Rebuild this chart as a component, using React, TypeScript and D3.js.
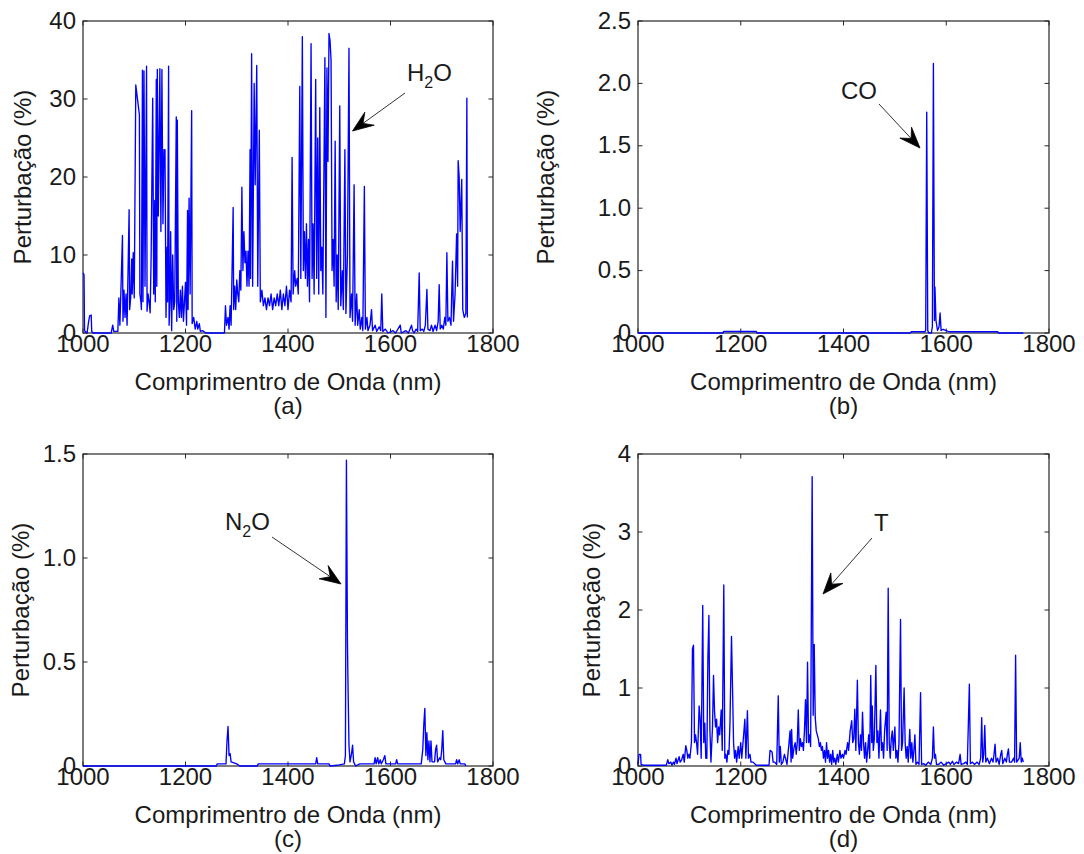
import React from "react";
import * as d3 from "d3";

type Pt = [number, number];

const xTicks = [1000, 1200, 1400, 1600, 1800];

const yTicksA = [0, 10, 20, 30, 40];
const yLabelsA = ["0", "10", "20", "30", "40"];
const yTicksB = [0, 0.5, 1, 1.5, 2, 2.5];
const yLabelsB = ["0", "0.5", "1.0", "1.5", "2.0", "2.5"];
const yTicksC = [0, 0.5, 1, 1.5];
const yLabelsC = ["0", "0.5", "1.0", "1.5"];
const yTicksD = [0, 1, 2, 3, 4];
const yLabelsD = ["0", "1", "2", "3", "4"];

// (a) H2O perturbation
const h2oData: Pt[] = [
  [1000, 7.7], [1002, 7.5], [1003, 0.3], [1008, 0], [1011, 1.5], [1013, 2.2], [1016, 2.3], [1017, 0.2], [1020, 0],
  [1055, 0], [1058, 1], [1060, 0.2], [1068, 0.2], [1070, 4.5], [1072, 1], [1074, 5.5], [1077, 12.5], [1078, 1.5],
  [1080, 5.5], [1082, 2], [1084, 5], [1086, 1], [1090, 15.8], [1091, 3], [1093, 4.5], [1095, 9.5], [1096, 5],
  [1098, 10.3], [1100, 4.5], [1103, 31.8], [1110, 28], [1111, 5], [1113, 4], [1114, 3], [1116, 33.7], [1117, 4],
  [1119, 33.6], [1121, 6], [1124, 34.2], [1125, 2.8], [1127, 5], [1129, 4], [1131, 2.6], [1133, 10], [1136, 30.1],
  [1138, 5], [1140, 17], [1141, 4], [1143, 32.5], [1144, 6], [1145, 33.8], [1147, 15], [1150, 33.9], [1152, 13],
  [1154, 33.8], [1156, 14], [1158, 23.5], [1160, 23.5], [1162, 2], [1164, 11], [1165, 4], [1167, 34.2], [1168, 1],
  [1170, 5], [1171, 13], [1173, 0.3], [1175, 10], [1177, 3], [1179, 4], [1182, 27.7], [1183, 1.5], [1184, 27.3],
  [1186, 4], [1188, 2], [1190, 5.5], [1192, 2], [1194, 6], [1196, 1.5], [1198, 4], [1200, 6.5], [1202, 1],
  [1204, 15.7], [1205, 3], [1207, 17.3], [1209, 5], [1212, 28.5], [1213, 1.2], [1216, 2], [1219, 0.5], [1222, 1.5],
  [1224, 0.5], [1227, 1.2], [1229, 0.2], [1233, 0.3], [1240, 0], [1276, 0], [1278, 3.5], [1280, 1], [1283, 2],
  [1285, 0.5], [1287, 3.5], [1289, 1], [1293, 16.1], [1294, 3], [1296, 6], [1298, 3], [1300, 6.8], [1302, 5],
  [1304, 4], [1306, 8], [1308, 5.5], [1310, 18.7], [1312, 8], [1314, 13], [1316, 9], [1318, 10.5], [1320, 6],
  [1322, 10.5], [1324, 6], [1326, 23.5], [1327, 7], [1329, 35.8], [1331, 6], [1334, 32], [1336, 19], [1339, 34.3],
  [1341, 6], [1344, 26], [1346, 4], [1349, 5.5], [1352, 3.5], [1355, 4.5], [1358, 3], [1361, 4.5], [1364, 3.5],
  [1367, 5], [1370, 3], [1373, 4.5], [1376, 3.5], [1379, 5], [1382, 3.5], [1385, 5.5], [1388, 3], [1391, 5],
  [1394, 3.5], [1397, 6], [1400, 3], [1403, 5.5], [1406, 4], [1408, 22.5], [1410, 5], [1413, 8], [1415, 6],
  [1418, 7], [1420, 5], [1423, 31.6], [1425, 7], [1428, 38], [1430, 8], [1432, 13], [1434, 7], [1436, 14],
  [1438, 6], [1440, 12], [1442, 4], [1445, 37.1], [1447, 7], [1449, 14], [1451, 5], [1454, 32.5], [1456, 7],
  [1458, 25], [1460, 5], [1462, 28.9], [1464, 8], [1466, 11], [1468, 5], [1472, 35.3], [1474, 2], [1476, 34],
  [1478, 22], [1480, 38.4], [1482, 37.5], [1484, 35], [1486, 8], [1488, 12], [1490, 6], [1492, 24.6], [1494, 4],
  [1496, 10], [1498, 3], [1501, 29.1], [1503, 3.5], [1506, 8], [1508, 3], [1511, 23.5], [1513, 2.5], [1516, 10],
  [1519, 36.5], [1521, 2], [1524, 5], [1526, 1.5], [1529, 19], [1531, 1], [1534, 5], [1536, 1], [1539, 3],
  [1541, 0.5], [1544, 2], [1546, 0.3], [1549, 18.8], [1551, 0.5], [1554, 2], [1556, 0.3], [1560, 1], [1563, 3],
  [1565, 0.3], [1570, 1], [1573, 0.2], [1578, 0.8], [1581, 0.3], [1583, 5], [1585, 0.2], [1590, 0.5], [1595, 0],
  [1605, 0.3], [1610, 0], [1619, 1], [1621, 0], [1630, 0.3], [1635, 0], [1641, 1], [1643, 0.3], [1646, 0],
  [1650, 0.5], [1653, 0.2], [1656, 7.7], [1658, 0.3], [1662, 0.5], [1665, 0.2], [1668, 1], [1671, 5.6],
  [1673, 0.5], [1677, 0.3], [1680, 1], [1683, 0.2], [1687, 1], [1690, 0.3], [1693, 1.5], [1695, 6.2], [1697, 0.5],
  [1700, 1], [1703, 0.5], [1706, 2], [1708, 1], [1710, 10.3], [1712, 1.5], [1715, 2], [1718, 1], [1721, 9.2],
  [1723, 1.5], [1726, 5], [1729, 12.7], [1731, 6], [1732, 22.1], [1734, 20], [1736, 13], [1739, 19.7], [1741, 3],
  [1744, 2], [1747, 2.5], [1749, 30.1], [1750, 2],
];

// (b) CO perturbation
const coData: Pt[] = [
  [1000, 0], [1165, 0], [1167, 0.012], [1230, 0.012], [1232, 0], [1530, 0], [1532, 0.01], [1558, 0.01],
  [1560, 0.02], [1562, 1.77], [1564, 0.02], [1566, 0], [1571, 0], [1573, 0.05], [1575, 2.16], [1577, 0.1],
  [1578, 0.37], [1580, 0.1], [1583, 0.02], [1586, 0.05], [1588, 0.16], [1590, 0.02], [1594, 0.03], [1600, 0.02],
  [1605, 0.01], [1700, 0.01], [1702, 0], [1750, 0],
];

// (c) N2O perturbation
const n2oData: Pt[] = [
  [1000, 0], [1260, 0], [1262, 0.01], [1279, 0.01], [1281, 0.12], [1283, 0.19], [1285, 0.05], [1287, 0.06],
  [1289, 0.02], [1300, 0.01], [1306, 0], [1340, 0], [1342, 0.01], [1454, 0.01], [1456, 0.04], [1458, 0.01],
  [1480, 0.01], [1482, 0], [1500, 0.005], [1510, 0.01], [1512, 0.05], [1514, 1.47], [1516, 0.6], [1517, 0.405],
  [1519, 0.1], [1521, 0.02], [1524, 0.06], [1526, 0.1], [1528, 0.02], [1532, 0], [1540, 0.01], [1568, 0.01],
  [1570, 0.04], [1572, 0.01], [1575, 0.04], [1577, 0.01], [1580, 0.03], [1582, 0.01], [1586, 0.03], [1589, 0.05],
  [1591, 0.01], [1610, 0.01], [1612, 0.03], [1614, 0.01], [1660, 0.01], [1663, 0.08], [1665, 0.2], [1667, 0.277],
  [1669, 0.05], [1671, 0.16], [1673, 0.03], [1675, 0.12], [1677, 0.02], [1679, 0.12], [1681, 0.02], [1686, 0.02],
  [1688, 0.08], [1690, 0.1], [1692, 0.02], [1696, 0.04], [1698, 0.03], [1700, 0.08], [1702, 0.17], [1704, 0.03],
  [1708, 0.01], [1727, 0.01], [1729, 0.03], [1731, 0.01], [1734, 0.03], [1736, 0.01], [1745, 0.01], [1747, 0],
];

// (d) temperature perturbation
const tData: Pt[] = [
  [1000, 0.02], [1002, 0.15], [1005, 0.15], [1006, 0.02], [1010, 0.01], [1055, 0.01], [1058, 0.08], [1060, 0.03],
  [1064, 0.05], [1066, 0.01], [1069, 0.05], [1071, 0.02], [1074, 0.1], [1076, 0.03], [1080, 0.12], [1082, 0.05],
  [1085, 0.08], [1088, 0.15], [1090, 0.05], [1093, 0.26], [1095, 0.2], [1097, 0.1], [1099, 0.15], [1101, 0.1],
  [1104, 0.3], [1106, 1.5], [1108, 1.55], [1110, 0.3], [1112, 0.4], [1114, 0.3], [1116, 0.15], [1119, 0.77],
  [1121, 0.6], [1123, 0.1], [1126, 2.06], [1128, 0.3], [1130, 0.55], [1132, 0.1], [1134, 0.1], [1136, 1.37],
  [1138, 1.93], [1140, 0.45], [1142, 0.05], [1145, 0.5], [1147, 1.16], [1149, 0.7], [1151, 0.5], [1153, 0.6],
  [1155, 0.3], [1157, 0.5], [1159, 0.4], [1162, 0.72], [1164, 0.2], [1167, 2.32], [1169, 0.1], [1171, 0.15],
  [1173, 0.05], [1175, 0.2], [1177, 0.15], [1179, 0.55], [1182, 1.66], [1184, 1.0], [1186, 0.3], [1188, 0.1],
  [1190, 0.2], [1192, 0.05], [1195, 0.25], [1197, 0.1], [1200, 0.3], [1202, 0.1], [1205, 0.35], [1208, 0.6],
  [1210, 0.1], [1213, 0.71], [1215, 0.1], [1218, 0.15], [1220, 0.05], [1224, 0.05], [1230, 0.01], [1255, 0.01],
  [1257, 0.2], [1261, 0.18], [1263, 0.05], [1266, 0.05], [1270, 0.02], [1273, 0.9], [1275, 0.05], [1277, 0.25],
  [1279, 0.02], [1282, 0.05], [1285, 0.15], [1287, 0.1], [1290, 0.02], [1294, 0.3], [1296, 0.45], [1298, 0.05],
  [1299, 0.47], [1301, 0.1], [1304, 0.25], [1306, 0.3], [1308, 0.15], [1310, 0.3], [1312, 0.72], [1314, 0.2],
  [1316, 0.35], [1318, 0.25], [1320, 0.3], [1322, 0.2], [1324, 0.45], [1326, 0.85], [1328, 0.3], [1330, 1.33],
  [1332, 0.3], [1334, 0.4], [1336, 0.25], [1339, 3.71], [1341, 0.65], [1343, 1.56], [1345, 0.62], [1347, 0.45],
  [1349, 0.4], [1351, 0.35], [1353, 0.25], [1355, 0.3], [1357, 0.2], [1359, 0.25], [1361, 0.1], [1363, 0.2],
  [1365, 0.05], [1367, 0.3], [1369, 0.1], [1371, 0.2], [1373, 0.05], [1375, 0.15], [1377, 0.02], [1379, 0.2],
  [1381, 0.05], [1383, 0.1], [1385, 0.02], [1388, 0.15], [1390, 0.05], [1393, 0.2], [1395, 0.1], [1398, 0.15],
  [1400, 0.1], [1403, 0.2], [1405, 0.15], [1408, 0.3], [1410, 0.2], [1413, 0.45], [1416, 0.58], [1418, 0.3],
  [1420, 0.35], [1422, 0.73], [1424, 0.2], [1427, 1.1], [1429, 0.3], [1431, 0.15], [1433, 0.4], [1435, 0.2],
  [1437, 0.69], [1439, 0.3], [1441, 0.1], [1443, 0.3], [1445, 0.05], [1447, 0.2], [1449, 0.4], [1451, 0.1],
  [1453, 1.16], [1455, 0.3], [1456, 0.77], [1458, 0.2], [1460, 0.35], [1463, 1.29], [1465, 0.3], [1467, 0.45],
  [1469, 0.1], [1472, 0.72], [1474, 0.2], [1476, 0.3], [1478, 0.1], [1480, 0.45], [1483, 0.69], [1485, 0.2],
  [1487, 2.28], [1489, 0.3], [1491, 0.1], [1493, 0.35], [1495, 0.45], [1497, 0.2], [1500, 0.5], [1502, 0.1],
  [1504, 0.2], [1506, 0.05], [1508, 0.3], [1511, 1.88], [1513, 0.2], [1515, 0.3], [1518, 1.0], [1520, 0.3],
  [1522, 0.1], [1524, 0.25], [1526, 0.05], [1529, 0.47], [1531, 0.1], [1533, 0.3], [1535, 0.05], [1537, 0.2],
  [1539, 0.4], [1541, 0.02], [1544, 0.05], [1547, 0.02], [1550, 0.94], [1552, 0.02], [1556, 0.03], [1560, 0.01],
  [1565, 0.05], [1570, 0.02], [1573, 0.1], [1575, 0.5], [1577, 0.1], [1579, 0.15], [1581, 0.02], [1585, 0.02],
  [1590, 0.05], [1595, 0.01], [1600, 0.03], [1605, 0.05], [1608, 0.02], [1612, 0.06], [1615, 0.02], [1620, 0.05],
  [1624, 0.03], [1627, 0.15], [1629, 0.02], [1634, 0.03], [1638, 0.05], [1641, 0.02], [1645, 1.05], [1647, 0.03],
  [1651, 0.05], [1655, 0.02], [1660, 0.05], [1664, 0.02], [1667, 0.1], [1669, 0.62], [1671, 0.05], [1673, 0.15],
  [1675, 0.52], [1677, 0.05], [1680, 0.1], [1684, 0.03], [1688, 0.1], [1691, 0.05], [1693, 0.15], [1695, 0.28],
  [1697, 0.05], [1700, 0.1], [1703, 0.02], [1706, 0.15], [1708, 0.2], [1710, 0.03], [1714, 0.1], [1717, 0.05],
  [1719, 0.15], [1721, 0.22], [1723, 0.05], [1727, 0.05], [1731, 0.1], [1733, 0.05], [1735, 1.42], [1737, 0.05],
  [1740, 0.08], [1742, 0.1], [1744, 0.3], [1746, 0.05], [1748, 0.1], [1750, 0.05],
];

const FONT = "'Liberation Sans', Arial, Helvetica, sans-serif";
const FS = 24;
const TXT = "#1a1a1a";
const AX = "#262626";

type Ann = {
  parts: { t: string; sub?: boolean }[];
  tx: number; ty: number;
  x1: number; y1: number; x2: number; y2: number;
};

type PanelCfg = {
  tag: string;
  data: Pt[];
  yTicks: number[];
  yLabels: string[];
  yMax: number;
  left: number; right: number; top: number; bottom: number;
  yLabelX: number;
  ann: Ann;
};

const panels: PanelCfg[] = [
  {
    tag: "(a)", data: h2oData, yTicks: yTicksA, yLabels: yLabelsA, yMax: 40,
    left: 83, right: 493, top: 21, bottom: 333, yLabelX: 31,
    ann: { parts: [{ t: "H" }, { t: "2", sub: true }, { t: "O" }], tx: 407, ty: 81, x1: 405, y1: 93, x2: 352.5, y2: 131 },
  },
  {
    tag: "(b)", data: coData, yTicks: yTicksB, yLabels: yLabelsB, yMax: 2.5,
    left: 638, right: 1049, top: 21, bottom: 333, yLabelX: 554,
    ann: { parts: [{ t: "CO" }], tx: 841, ty: 99, x1: 879, y1: 104, x2: 920, y2: 148 },
  },
  {
    tag: "(c)", data: n2oData, yTicks: yTicksC, yLabels: yLabelsC, yMax: 1.5,
    left: 83, right: 493, top: 454, bottom: 766, yLabelX: 29,
    ann: { parts: [{ t: "N" }, { t: "2", sub: true }, { t: "O" }], tx: 225, ty: 530, x1: 272, y1: 537, x2: 341, y2: 584 },
  },
  {
    tag: "(d)", data: tData, yTicks: yTicksD, yLabels: yLabelsD, yMax: 4,
    left: 638, right: 1049, top: 454, bottom: 766, yLabelX: 600,
    ann: { parts: [{ t: "T" }], tx: 874, ty: 531, x1: 872, y1: 538, x2: 823, y2: 594 },
  },
];

function Arrow({ x1, y1, x2, y2 }: { x1: number; y1: number; x2: number; y2: number }) {
  const dx = x2 - x1, dy = y2 - y1;
  const len = Math.hypot(dx, dy);
  const ux = dx / len, uy = dy / len;
  const nx = -uy, ny = ux;
  const L = 21, W = 8, N = 13;
  const bx = x2 - L * ux, by = y2 - L * uy;
  const w1 = [bx + W * nx, by + W * ny];
  const w2 = [bx - W * nx, by - W * ny];
  const notch = [x2 - N * ux, y2 - N * uy];
  const d = `M${x2},${y2}L${w1[0]},${w1[1]}L${notch[0]},${notch[1]}L${w2[0]},${w2[1]}Z`;
  return (
    <g>
      <line x1={x1} y1={y1} x2={notch[0]} y2={notch[1]} stroke="#333" strokeWidth={1} />
      <path d={d} fill="#000" stroke="#000" strokeWidth={0.8} strokeLinejoin="miter" />
    </g>
  );
}

function Panel({ cfg }: { cfg: PanelCfg }) {
  const x = d3.scaleLinear().domain([1000, 1800]).range([cfg.left, cfg.right]);
  const y = d3.scaleLinear().domain([0, cfg.yMax]).range([cfg.bottom, cfg.top]);
  const line = d3.line<Pt>().x((d) => x(d[0])).y((d) => y(d[1]));
  const tl = 4.5;
  const cx = (cfg.left + cfg.right) / 2;
  const cy = (cfg.top + cfg.bottom) / 2;
  return (
    <g>
      <rect x={cfg.left} y={cfg.top} width={cfg.right - cfg.left} height={cfg.bottom - cfg.top}
        fill="#fff" stroke={AX} strokeWidth={1.2} />
      {xTicks.map((t) => (
        <g key={"x" + t}>
          <line x1={x(t)} x2={x(t)} y1={cfg.bottom} y2={cfg.bottom - tl} stroke={AX} strokeWidth={1} />
          <line x1={x(t)} x2={x(t)} y1={cfg.top} y2={cfg.top + tl} stroke={AX} strokeWidth={1} />
          <text x={x(t)} y={cfg.bottom + 19} textAnchor="middle" fontSize={FS} fill={TXT}>{t}</text>
        </g>
      ))}
      {cfg.yTicks.map((t, i) => (
        <g key={"y" + t}>
          <line x1={cfg.left} x2={cfg.left + tl} y1={y(t)} y2={y(t)} stroke={AX} strokeWidth={1} />
          <line x1={cfg.right} x2={cfg.right - tl} y1={y(t)} y2={y(t)} stroke={AX} strokeWidth={1} />
          <text x={cfg.left - 7} y={y(t) + 7.5} textAnchor="end" fontSize={FS} fill={TXT}>{cfg.yLabels[i]}</text>
        </g>
      ))}
      <path d={line(cfg.data) || ""} fill="none" stroke="#0000ff" strokeWidth={1.35} strokeLinejoin="round" />
      <text x={cx} y={cfg.bottom + 57} textAnchor="middle" fontSize={FS} fill={TXT}>Comprimentro de Onda (nm)</text>
      <text x={cx} y={cfg.bottom + 81} textAnchor="middle" fontSize={FS} fill={TXT}>{cfg.tag}</text>
      <text transform={`translate(${cfg.yLabelX},${cy}) rotate(-90)`} textAnchor="middle" fontSize={FS} fill={TXT}>
        Perturbação (%)
      </text>
      <text x={cfg.ann.tx} y={cfg.ann.ty} fontSize={FS} fill={TXT}>
        {cfg.ann.parts.map((p, i) =>
          p.sub ? (
            <tspan key={i} fontSize={16} dy={7}>{p.t}</tspan>
          ) : (
            <tspan key={i} dy={i > 0 && cfg.ann.parts[i - 1].sub ? -7 : 0}>{p.t}</tspan>
          )
        )}
      </text>
      <Arrow x1={cfg.ann.x1} y1={cfg.ann.y1} x2={cfg.ann.x2} y2={cfg.ann.y2} />
    </g>
  );
}

export default function App() {
  return (
    <svg width={1084} height={854} viewBox="0 0 1084 854"
      style={{ position: "absolute", left: 0, top: 0, background: "#fff" }}
      fontFamily={FONT}>
      <rect x={0} y={0} width={1084} height={854} fill="#fff" />
      {panels.map((p) => <Panel key={p.tag} cfg={p} />)}
    </svg>
  );
}
